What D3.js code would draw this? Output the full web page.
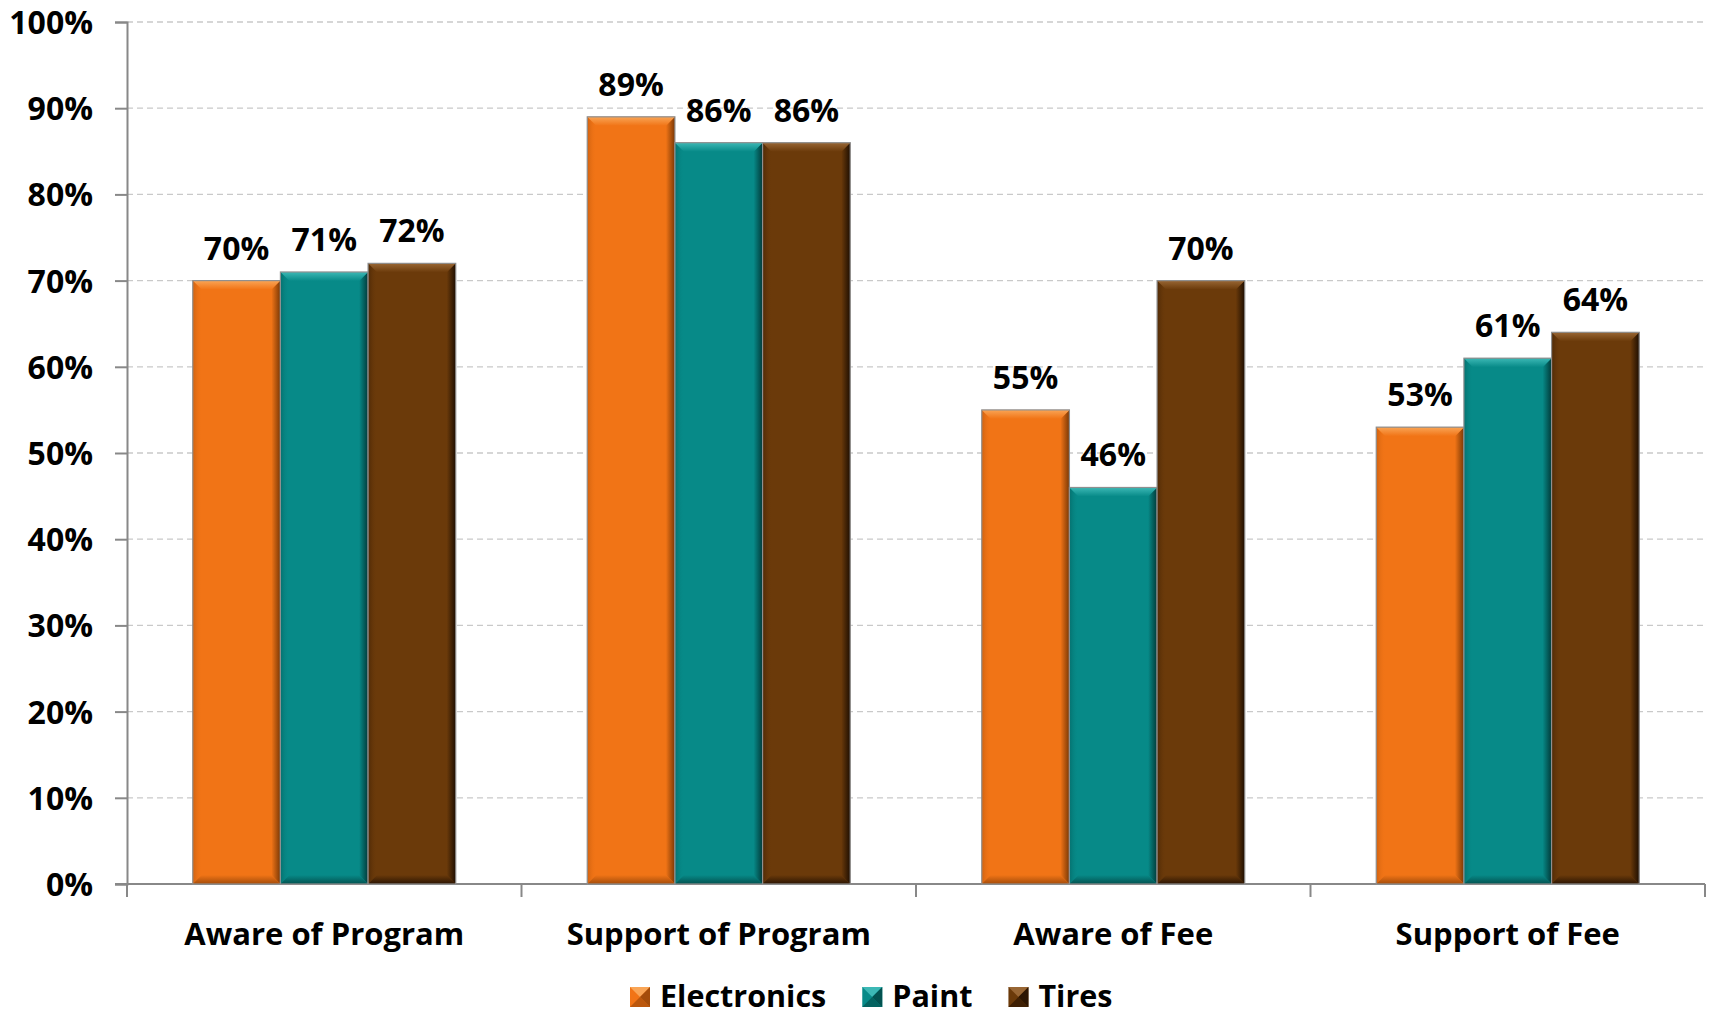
<!DOCTYPE html>
<html><head><meta charset="utf-8">
<script src="https://cdn.jsdelivr.net/npm/d3@7"></script>
<style>
html,body{margin:0;padding:0;background:#fff;}
svg{display:block;}
text{font-family:"Open Sans","Noto Sans",sans-serif;font-weight:700;fill:#000;}
</style></head>
<body>
<svg id="chart" width="1709" height="1016"></svg>
<script>
const categories = ["Aware of Program", "Support of Program", "Aware of Fee", "Support of Fee"];
const seriesNames = ["Electronics", "Paint", "Tires"];
const electronics = [0.70, 0.89, 0.55, 0.53];
const paint = [0.71, 0.86, 0.46, 0.61];
const tires = [0.72, 0.86, 0.70, 0.64];
const yTicks = [0, 0.1, 0.2, 0.3, 0.4, 0.5, 0.6, 0.7, 0.8, 0.9, 1.0];

const palette = {
  Electronics: {base:"#F17416", light:"#F9A556", dark:"#A44C0A", darker:"#7a3805"},
  Paint:       {base:"#078A88", light:"#3CB8B5", dark:"#035250", darker:"#023a39"},
  Tires:       {base:"#6B3A0A", light:"#986634", dark:"#2C1502", darker:"#1e0e01"}
};

const values = {Electronics: electronics, Paint: paint, Tires: tires};

const svg = d3.select("#chart");
const W = 1709, H = 1016;
const m = {left:127, right:4, top:22, bottom:132};
const x0 = d3.scaleBand().domain(categories).range([m.left, W - m.right]).paddingInner(0).paddingOuter(0);
const groupFrac = 3/4.5;
const x1 = d3.scaleBand().domain(seriesNames).range([0, x0.bandwidth()*groupFrac]).padding(0);
const groupOffset = x0.bandwidth()*(1-groupFrac)/2;
const y = d3.scaleLinear().domain([0,1]).range([H - m.bottom, m.top]);

// gridlines
svg.append("g").selectAll("line").data(yTicks.filter(d=>d>0)).join("line")
  .attr("x1", m.left).attr("x2", W - m.right)
  .attr("y1", d=>y(d)).attr("y2", d=>y(d))
  .attr("stroke", "#c9c9c9").attr("stroke-width", 1.3).attr("stroke-dasharray", "6,4");

// y axis
const yAxis = d3.axisLeft(y).tickValues(yTicks).tickFormat(d3.format(".0%")).tickSize(12).tickPadding(22);
const gy = svg.append("g").attr("transform", `translate(${m.left},0)`).call(yAxis);
gy.select(".domain").attr("stroke", "#888").attr("stroke-width", 2);
gy.selectAll(".tick line").attr("stroke", "#888").attr("stroke-width", 2);
gy.selectAll(".tick text").style("font-size", "32px").attr("dy", "0.36em").attr("fill", "#000");

// x axis
const xAxisG = svg.append("g").attr("transform", `translate(0,${y(0)})`);
xAxisG.append("line").attr("x1", m.left - 12).attr("x2", W - m.right).attr("stroke", "#888").attr("stroke-width", 2);
const boundaries = categories.map(c => x0(c)).concat([x0(categories[categories.length-1]) + x0.bandwidth()]);
xAxisG.selectAll("line.tk").data(boundaries).join("line").attr("class","tk")
  .attr("x1", d=>d).attr("x2", d=>d).attr("y1", 0).attr("y2", 13)
  .attr("stroke", "#888").attr("stroke-width", 2);
xAxisG.selectAll("text").data(categories).join("text")
  .attr("x", d => x0(d) + x0.bandwidth()/2).attr("y", 61)
  .attr("text-anchor", "middle").style("font-size", "31px").text(d=>d);

// bars with bevel
const bev = 9;
const defs = svg.append("defs");
seriesNames.forEach((s,i) => {
  const p = palette[s];
  const gr = defs.append("linearGradient").attr("id","rg"+i).attr("x1",0).attr("x2",1).attr("y1",0).attr("y2",0);
  gr.append("stop").attr("offset","0%").attr("stop-color",p.base);
  gr.append("stop").attr("offset","100%").attr("stop-color",p.darker);
  const gl = defs.append("linearGradient").attr("id","lg"+i).attr("x1",0).attr("x2",1).attr("y1",0).attr("y2",0);
  gl.append("stop").attr("offset","0%").attr("stop-color",p.dark).attr("stop-opacity",0.45);
  gl.append("stop").attr("offset","100%").attr("stop-color",p.base).attr("stop-opacity",0);
  const gt = defs.append("linearGradient").attr("id","tg"+i).attr("x1",0).attr("x2",0).attr("y1",0).attr("y2",1);
  gt.append("stop").attr("offset","0%").attr("stop-color",p.light);
  gt.append("stop").attr("offset","100%").attr("stop-color",p.base);
  const gb = defs.append("linearGradient").attr("id","bg"+i).attr("x1",0).attr("x2",0).attr("y1",0).attr("y2",1);
  gb.append("stop").attr("offset","0%").attr("stop-color",p.base);
  gb.append("stop").attr("offset","100%").attr("stop-color",p.dark);
});

const barData = [];
categories.forEach((c,ci) => seriesNames.forEach((s,si) => barData.push({c, s, si, v: values[s][ci]})));

const bars = svg.append("g").selectAll("g").data(barData).join("g")
  .attr("transform", d => `translate(${x0(d.c) + groupOffset + x1(d.s)},${y(d.v)})`);

bars.each(function(d){
  const g = d3.select(this);
  const w = x1.bandwidth(), h = y(0) - y(d.v);
  const p = palette[d.s];
  g.append("rect").attr("width", w).attr("height", h).attr("fill", p.base);
  g.append("path").attr("d", `M0,0 L${bev},${bev} L${bev},${h-bev} L0,${h} Z`).attr("fill", `url(#lg${d.si})`);
  g.append("path").attr("d", `M${w},0 L${w-bev},${bev} L${w-bev},${h-bev} L${w},${h} Z`).attr("fill", `url(#rg${d.si})`);
  g.append("path").attr("d", `M0,${h} L${bev},${h-bev} L${w-bev},${h-bev} L${w},${h} Z`).attr("fill", `url(#bg${d.si})`);
  g.append("path").attr("d", `M0,0 L${w},0 L${w-bev},${bev} L${bev},${bev} Z`).attr("fill", `url(#tg${d.si})`);
  g.append("rect").attr("width", w).attr("height", h).attr("fill", "none").attr("stroke", "#8f8f8f").attr("stroke-width", 1.2);
});

// data labels
svg.append("g").selectAll("text").data(barData).join("text")
  .attr("x", d => x0(d.c) + groupOffset + x1(d.s) + x1.bandwidth()/2)
  .attr("y", d => y(d.v) - 21)
  .attr("text-anchor", "middle").style("font-size", "32px")
  .text(d => d3.format(".0%")(d.v));

// legend
const leg = svg.append("g");
const items = leg.selectAll("g").data(seriesNames).join("g");
items.append("text").attr("x", 30).attr("y", 0).style("font-size", "30.5px").text(d=>d);
let xpos = 0;
const gapItem = 36;
const widths = [];
items.each(function(){ widths.push(this.querySelector("text").getComputedTextLength() + 30); });
items.attr("transform", (d,i) => { const t = `translate(${xpos},0)`; xpos += widths[i] + gapItem; return t; });
items.each(function(d,i){
  const g = d3.select(this), p = palette[d], s = 20;
  g.append("rect").attr("x",0).attr("y",-s).attr("width",s).attr("height",s).attr("fill",p.base);
  g.append("path").attr("d",`M0,${-s} L${s},${-s} L${s/2},${-s/2} Z`).attr("fill",p.light);
  g.append("path").attr("d",`M${s},${-s} L${s},0 L${s/2},${-s/2} Z`).attr("fill",p.dark);
  g.append("path").attr("d",`M0,0 L${s},0 L${s/2},${-s/2} Z`).attr("fill",p.dark).attr("opacity",0.7);
});
leg.attr("transform", `translate(630,1007)`);
</script>
</body></html>
